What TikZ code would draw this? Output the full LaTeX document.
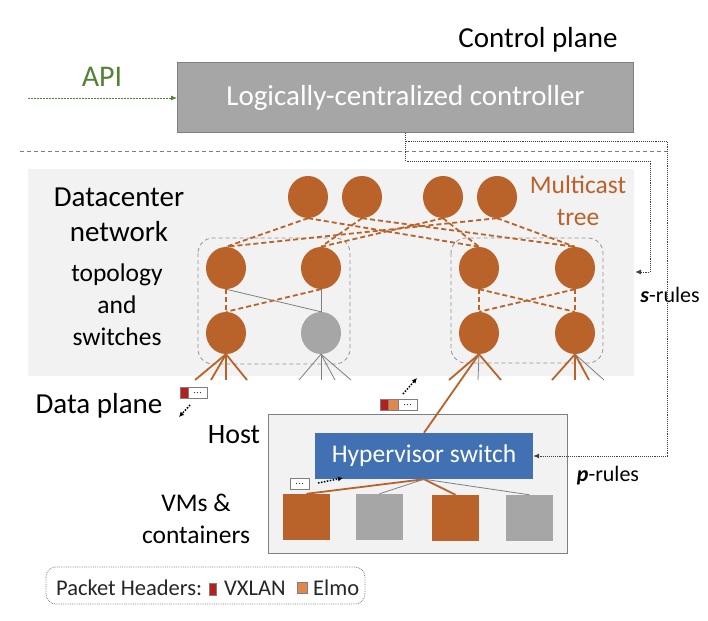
\documentclass[tikz,border=0pt]{standalone}
\usepackage{fontspec}
\setmainfont{Carlito}
\usetikzlibrary{arrows.meta,shapes.geometric}
\definecolor{org}{RGB}{185,98,42}
\definecolor{grayc}{RGB}{166,166,166}
\definecolor{bgc}{RGB}{242,242,242}
\definecolor{bord}{RGB}{127,127,127}
\definecolor{hypc}{RGB}{65,113,178}
\definecolor{apig}{RGB}{84,130,53}
\definecolor{vx}{RGB}{180,32,30}
\definecolor{el}{RGB}{225,135,75}
\definecolor{dotc}{RGB}{64,64,64}
\newcommand{\fs}[1]{\fontsize{#1}{#1}\selectfont}
\begin{document}
\begin{tikzpicture}[x=1pt,y=-1pt,
  sw/.style={ellipse, minimum width=40pt, minimum height=42pt, inner sep=0pt, fill=org},
  swg/.style={sw, fill=grayc},
  mlink/.style={org, line width=1.8pt, dash pattern=on 5pt off 3pt},
  glink/.style={bord, line width=0.8pt},
  olink/.style={org, line width=1.8pt},
  podbox/.style={draw=bord!85, dash pattern=on 4pt off 3pt, line width=0.8pt, rounded corners=15pt},
  ctl/.style={dotc, line width=0.9pt, densely dotted, -{Latex[length=6pt,width=5pt]}},
  pktarrow/.style={black, line width=1.5pt, dash pattern=on 1.5pt off 1.5pt, -{Latex[length=5pt,width=5pt]}},
  vmbox/.style={minimum width=47pt, minimum height=46pt, inner sep=0pt},
  lbl/.style={align=center, text=black, inner sep=0pt},
  pkt/.style={draw=bord, line width=0.6pt},
]
\useasboundingbox (0,0) rectangle (708,620);

% backgrounds
\fill[bgc] (28,169) rectangle (634,376);
\draw[bord, dash pattern=on 4pt off 3pt, line width=0.8pt] (20,151) -- (668,151);

% controller
\node[draw=bord, fill=grayc, line width=1pt, minimum width=456pt, minimum height=70pt,
      text=white, font=\fs{29}] (ctrl) at (405.5,98) {Logically-centralized controller};
\node[text=apig, font=\fs{30}, inner sep=0pt] (api) at (102,77) {API};
\coordinate (apis) at (28,98);
\draw[apig, line width=0.8pt, dash pattern=on 2pt off 1pt, -{Latex[length=6pt,width=5pt]}] (apis) -- (ctrl.west);
\node[font=\fs{29}, lbl] (cp) at (538,40) {Control plane};

% pods
\draw[podbox] (198,238) rectangle (350,364);
\draw[podbox] (451,238) rectangle (603,363);

% labels
\node[lbl, font=\fontsize{29}{35}\selectfont] (dcn) at (119,214.5) {Datacenter\\network};
\node[lbl, font=\fontsize{25.5}{32}\selectfont] (tas) at (117,305) {topology\\and\\switches};
\node[lbl, text=org, font=\fontsize{25.5}{32}\selectfont] (mct) at (578,201) {Multicast\\tree};
\node[lbl, font=\fs{29}] (dp) at (99,406) {Data plane};
\node[lbl, font=\fs{22}] (sr) at (670,295) {\textbf{\textit{s}}-rules};
\node[lbl, font=\fs{22}] (pr) at (608,476) {\textbf{\textit{p}}-rules};

% switches
\node[sw] (c1) at (308,197) {};
\node[sw] (c2) at (362,197) {};
\node[sw] (c3) at (443,197) {};
\node[sw] (c4) at (497,197) {};
\node[sw] (l1) at (226,268) {};
\node[sw] (l2) at (321,268) {};
\node[sw] (r1) at (479,268) {};
\node[sw] (r2) at (575,268) {};
\node[sw] (lt1) at (226,333) {};
\node[swg] (lt2) at (321,333) {};
\node[sw] (rt1) at (479,333) {};
\node[sw] (rt2) at (575,333) {};

% core links
\draw[mlink] (c1.south) -- (l1.north);
\draw[mlink] (c1.south) -- (r1.north);
\draw[mlink] (c2.south) -- (l2.north);
\draw[mlink] (c2.south) -- (r2.north);
\draw[mlink] (c3.south) -- (l2.north);
\draw[mlink] (c3.south) -- (r1.north);
\draw[mlink] (c4.south) -- (l1.north);
\draw[mlink] (c4.south) -- (r2.north);

% pod links
\draw[glink] (l1.south) -- (lt2.north);
\draw[glink] (l2.south) -- (lt2.north);
\draw[mlink] (l1.south) -- (lt1.north);
\draw[mlink] (l2.south) -- (lt1.north);
\draw[mlink] (r1.south) -- (rt1.north);
\draw[mlink] (r2.south) -- (rt2.north);
\draw[mlink] (r1.south) -- (rt2.north);
\draw[mlink] (r2.south) -- (rt1.north);

% host
\node[draw=bord, fill=bgc, line width=1pt, minimum width=299pt, minimum height=139pt] (host) at (417.5,483.5) {};
\node[lbl, font=\fs{28}] (hostl) at (234,435) {Host};
\node[fill=hypc, text=white, minimum width=218pt, minimum height=46pt, inner sep=0pt, font=\fs{25.5}] (hyp) at (424,456) {Hypervisor switch};
\node[lbl, font=\fontsize{25.5}{32}\selectfont] (vml) at (196,519) {VMs \&\\containers};

\node[vmbox, fill=org] (vm1) at (306.5,517) {};
\node[vmbox, fill=grayc] (vm2) at (379.5,517) {};
\node[vmbox, fill=org] (vm3) at (455.5,518) {};
\node[vmbox, fill=grayc] (vm4) at (529.5,518) {};
\draw[olink] (hyp.south) -- (vm1.north);
\draw[glink] (hyp.south) -- (vm2.north);
\draw[olink] (hyp.south) -- (vm3.north);
\draw[glink] (hyp.south) -- (vm4.north);

% downlinks
\foreach \n/\x in {a1/195,a2/211,a3/226,a4/247,b1/299,b2/321,b3/335,b4/351,e1/449,e2/478,e3/501,f1/552,f2/575,f3/589,f4/604}
  \coordinate (\n) at (\x,380);
\foreach \n in {a1,a2,a3,a4} \draw[olink] (lt1.south) -- (\n);
\foreach \n in {b1,b2,b3,b4} \draw[glink] (lt2.south) -- (\n);
\foreach \n in {e1,e3} \draw[olink] (rt1.south) -- (\n);
\draw[glink] (rt1.south) -- (e2);
\draw[olink] (rt1.south) -- (hyp.north);
\foreach \n in {f1,f2,f3} \draw[olink] (rt2.south) -- (\n);
\draw[glink] (rt2.south) -- (f4);

% control rules
\coordinate (sr1) at (650,161);
\coordinate (sre) at (635,272);
\coordinate (pr1) at (667,141);
\draw[ctl] (ctrl.south) |- (sr1) |- (sre);
\draw[ctl] (ctrl.south) |- (pr1) |- (hyp.east);

% packets
\draw[pkt, fill=white] (188,387) rectangle (207,398);
\draw[pkt, fill=vx] (180,387) rectangle (188,398);
\draw[pkt, fill=white] (398,399) rectangle (417,410);
\draw[pkt, fill=el] (388,399) rectangle (398,410);
\draw[pkt, fill=vx] (380,399) rectangle (388,410);
\draw[pkt, fill=white] (290,478) rectangle (309,489);
\foreach \cx/\cy in {197.5/392.5, 407.5/404.5, 299.5/483.5}
  \foreach \dx in {-3,0,3} \fill[black!80] (\cx+\dx,\cy) circle (0.7);
\coordinate (a1s) at (190,405); \coordinate (a1e) at (179,417);
\coordinate (a2s) at (403,394); \coordinate (a2e) at (417,378);
\coordinate (a3s) at (318,483); \coordinate (a3e) at (343,478);
\draw[pktarrow] (a1s) -- (a1e);
\draw[pktarrow] (a2s) -- (a2e);
\draw[pktarrow] (a3s) -- (a3e);

% legend
\draw[bord, line width=0.8pt, densely dotted, rounded corners=10pt] (46,567) rectangle (365,604);
\node[anchor=base west, inner sep=0pt, font=\fs{22.5}, text=black!85] (ph) at (56,595) {Packet Headers:};
\draw[pkt, fill=vx] (209,583) rectangle (216,595);
\node[anchor=base west, inner sep=0pt, font=\fs{22.5}, text=black!85] (vxl) at (224,595) {VXLAN};
\draw[pkt, fill=el] (297,582) rectangle (307,593);
\node[anchor=base west, inner sep=0pt, font=\fs{22.5}, text=black!85] (elm) at (313,595) {Elmo};
\end{tikzpicture}
\end{document}
